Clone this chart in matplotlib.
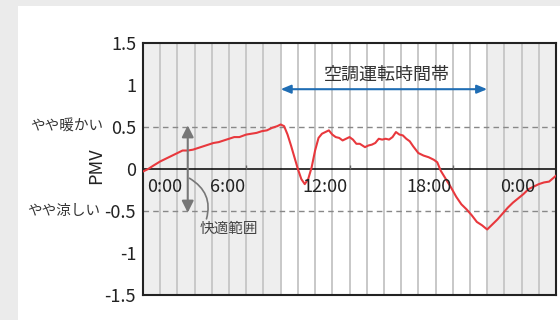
import matplotlib
matplotlib.use("Agg")
import matplotlib.pyplot as plt
from matplotlib import transforms
from matplotlib.patches import Rectangle

plt.rcParams['font.family'] = ['Noto Sans CJK JP', 'DejaVu Sans']

# hourly PMV readings (0:00 -> next 0:00)
hours = [0, 0.3, 0.6, 1.0, 1.3, 1.6, 2.0, 2.3, 2.6, 2.9, 3.2, 3.5, 3.8, 4.1, 4.4, 4.7,
         5.0, 5.3, 5.6, 6.0, 6.3, 6.6, 6.9, 7.2, 7.5, 7.8, 8.0, 8.2, 8.4, 8.6, 8.8, 9.0,
         9.2, 9.4, 9.6, 9.8, 10.0, 10.2, 10.4, 10.6, 10.8, 11.0, 11.2, 11.4, 11.6, 11.8,
         12.0, 12.2, 12.4, 12.6, 12.9, 13.1, 13.3, 13.5, 13.7, 13.9, 14.1, 14.3, 14.5,
         14.7, 14.9, 15.1, 15.3, 15.5, 15.7, 16.0, 16.3, 16.6, 16.9, 17.1, 17.3, 17.6,
         17.9, 18.2, 18.5, 18.8, 19.1, 19.4, 19.7, 20.0, 20.3, 20.6, 20.9, 21.2, 21.5,
         21.8, 22.1, 22.4, 22.7, 23.0, 23.3, 23.6, 24.0]
pmv = [-0.03, 0.0, 0.04, 0.09, 0.12, 0.15, 0.19, 0.22, 0.22, 0.23, 0.25, 0.27, 0.29,
       0.31, 0.32, 0.34, 0.36, 0.38, 0.38, 0.41, 0.42, 0.43, 0.45, 0.46, 0.49, 0.51,
       0.53, 0.51, 0.41, 0.28, 0.14, 0.0, -0.12, -0.18, -0.12, 0.02, 0.22, 0.37, 0.42,
       0.44, 0.46, 0.41, 0.38, 0.37, 0.34, 0.36, 0.38, 0.35, 0.30, 0.30, 0.26, 0.28,
       0.29, 0.31, 0.36, 0.35, 0.36, 0.35, 0.38, 0.44, 0.41, 0.40, 0.36, 0.33, 0.27,
       0.19, 0.16, 0.14, 0.11, 0.08, -0.02, -0.12, -0.22, -0.33, -0.42, -0.48, -0.55,
       -0.63, -0.67, -0.72, -0.66, -0.60, -0.53, -0.46, -0.40, -0.35, -0.30, -0.24,
       -0.21, -0.18, -0.16, -0.15, -0.08]

yticks = [-1.5, -1, -0.5, 0, 0.5, 1, 1.5]
ytick_labels = ['-1.5', '-1', '-0.5', '0', '0.5', '1', '1.5']
time_labels = ['0:00', '6:00', '12:00', '18:00', '0:00']
time_label_x = [1.25, 4.9, 10.6, 16.6, 21.8]
ac_start, ac_end = 8, 20

fig = plt.figure(figsize=(5.6, 3.2), dpi=100)
fig.patch.set_facecolor('#ebebeb')
fig.patches.append(Rectangle((18 / 560, 0), 1, 1 - 6 / 320, transform=fig.transFigure,
                             facecolor='white', edgecolor='none', zorder=-10))
ax = fig.add_axes([143 / 560, 25 / 320, 413 / 560, 252 / 320])
ax.set_facecolor('white')

ax.axvspan(0, ac_start, color='#eeeeee', zorder=0, lw=0)
ax.axvspan(ac_end, 24, color='#eeeeee', zorder=0, lw=0)
for h in range(1, 24):
    ax.axvline(h, color='#c8c8c8', lw=1.4, zorder=1)

ax.axhline(0.5, color='#888888', lw=1, ls=(0, (4, 3)), zorder=2)
ax.axhline(-0.5, color='#888888', lw=1, ls=(0, (4, 3)), zorder=2)
ax.axhline(0, color='black', lw=1.1, zorder=2)
ax.vlines([6, 12, 18], 0, 0.05, color='#666666', lw=1, zorder=2)

ax.plot(hours, pmv, color='#e8383d', lw=1.5, zorder=4)

ax.set_xlim(0, 24)
ax.set_ylim(-1.5, 1.5)
ax.set_xticks([])
ax.set_yticks(yticks)
ax.set_yticklabels(ytick_labels)
ax.tick_params(axis='y', length=0, pad=5, labelsize=13, labelcolor='#222222')
for s in ax.spines.values():
    s.set_linewidth(1.5)
    s.set_color('#222222')

for lx, lab in zip(time_label_x, time_labels):
    ax.text(lx, -0.21, lab, ha='center', va='center', fontsize=13, color='#222222', zorder=5)

# air conditioning period
ax.annotate('', xy=(ac_start, 0.95), xytext=(ac_end, 0.95),
            arrowprops=dict(arrowstyle='<|-|>,head_length=0.6,head_width=0.25',
                            color='#1f6db4', lw=1.5, shrinkA=0, shrinkB=0), zorder=5)
ax.text(14.2, 1.12, '空調運転時間帯', ha='center', va='center', fontsize=13, color='#333333')

# comfort range arrow
ax.annotate('', xy=(2.6, 0.52), xytext=(2.6, -0.52),
            arrowprops=dict(arrowstyle='<|-|>,head_length=0.7,head_width=0.35',
                            color='#777777', lw=1.5, shrinkA=0, shrinkB=0), zorder=5)
ax.annotate('快適範囲', xy=(2.7, -0.11), xytext=(5.0, -0.71), ha='center', va='center',
            fontsize=10.5, color='#444444',
            arrowprops=dict(arrowstyle='-', color='#777777', lw=1.2,
                            connectionstyle='arc3,rad=0.4', shrinkA=0, shrinkB=0,
                            relpos=(0.1, 1.0)), zorder=5)

tr = transforms.blended_transform_factory(fig.transFigure, ax.transData)
ax.text(103 / 560, 0.5, 'やや暖かい', transform=tr, ha='right', va='center',
        fontsize=10.5, color='#333333')
ax.text(100 / 560, -0.5, 'やや涼しい', transform=tr, ha='right', va='center',
        fontsize=10.5, color='#333333')
fig.text(96 / 560, 1 - 166 / 320, 'PMV', rotation=90, ha='center', va='center',
         fontsize=13, color='#222222')

fig.savefig('out.png', dpi=100, facecolor=fig.get_facecolor())
